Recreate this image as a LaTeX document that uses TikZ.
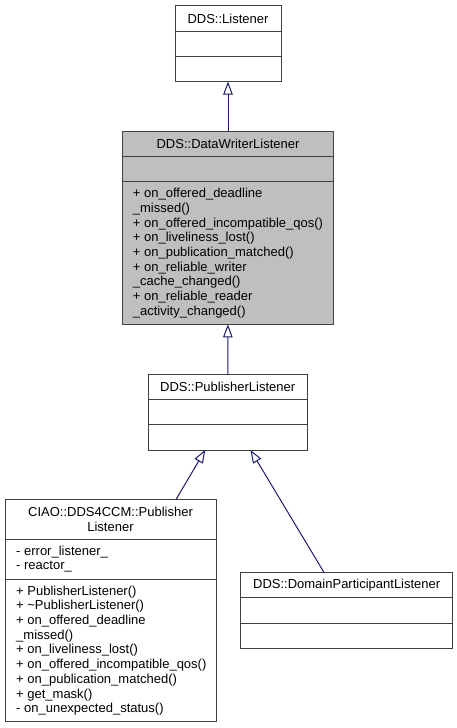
\documentclass[tikz,border=0pt]{standalone}
\usepackage{fontspec}
\setmainfont{Liberation Sans}
\usetikzlibrary{arrows.meta}

\definecolor{edgeblue}{HTML}{191970}
\definecolor{boxgray}{HTML}{BFBFBF}
\definecolor{boxline}{HTML}{404040}

\tikzset{
  classbox/.style={draw=boxline,line width=1pt,fill=white,inner sep=0pt,outer sep=0pt},
  classline/.style={draw=boxline,line width=1pt},
  classname/.style={inner sep=0pt,font=\fontsize{13pt}{14.7pt}\selectfont,align=center},
  members/.style={inner sep=0pt,anchor=north west,font=\fontsize{13pt}{14.7pt}\selectfont,align=left},
  inherit/.style={draw=edgeblue,line width=1pt,-{Triangle[open,length=13pt,width=9.5pt]}}
}

\begin{document}
\begin{tikzpicture}[x=1pt,y=-1pt]
      \useasboundingbox (0,0) rectangle (457,728);
      % classes
      \node[classbox,minimum width=106,minimum height=76] (listener) at (228,43.6) {};
      \node[classbox,fill=boxgray,minimum width=210.6,minimum height=193.3] (dwl) at (228,227.7) {};
      \node[classbox,minimum width=158.7,minimum height=76] (pub) at (227.7,412) {};
      \node[classbox,minimum width=211,minimum height=222.4] (ciao) at (110.5,610.5) {};
      \node[classbox,minimum width=212,minimum height=76] (dpl) at (346.7,610.3) {};
      % compartments
      \draw[classline] (listener.west |- 0,31.3) -- (listener.east |- 0,31.3);
      \draw[classline] (listener.west |- 0,56.7) -- (listener.east |- 0,56.7);
      \draw[classline] (dwl.west |- 0,156.3) -- (dwl.east |- 0,156.3);
      \draw[classline] (dwl.west |- 0,181.7) -- (dwl.east |- 0,181.7);
      \draw[classline] (pub.west |- 0,399.3) -- (pub.east |- 0,399.3);
      \draw[classline] (pub.west |- 0,424.7) -- (pub.east |- 0,424.7);
      \draw[classline] (ciao.west |- 0,539) -- (ciao.east |- 0,539);
      \draw[classline] (ciao.west |- 0,579.3) -- (ciao.east |- 0,579.3);
      \draw[classline] (dpl.west |- 0,597.7) -- (dpl.east |- 0,597.7);
      \draw[classline] (dpl.west |- 0,623) -- (dpl.east |- 0,623);
      % names
      \node[classname] (listenername) at (228,18.6) {DDS::Listener};
      \node[classname] (dwlname) at (228,143.7) {DDS::DataWriterListener};
      \node[classname] (pubname) at (227.7,386.7) {DDS::PublisherListener};
      \node[classname] (ciaoname) at (110.5,519) {CIAO::DDS4CCM::Publisher\\Listener};
      \node[classname] (dplname) at (346.7,585) {DDS::DomainParticipantListener};
      % members
      \node[members] (dwlops) at (132.7,188) {+ on\_offered\_deadline\\\_missed()\\+ on\_offered\_incompatible\_qos()\\+ on\_liveliness\_lost()\\+ on\_publication\_matched()\\+ on\_reliable\_writer\\\_cache\_changed()\\+ on\_reliable\_reader\\\_activity\_changed()};
      \node[members] (ciaoattrs) at (16,545.5) {- error\_listener\_\\- reactor\_};
      \node[members] (ciaoops) at (16,585.5) {+ PublisherListener()\\+ \textasciitilde PublisherListener()\\+ on\_offered\_deadline\\\_missed()\\+ on\_liveliness\_lost()\\+ on\_offered\_incompatible\_qos()\\+ on\_publication\_matched()\\+ get\_mask()\\- on\_unexpected\_status()};
      % generalisation
      \draw[inherit] (dwl) -- (listener);
      \draw[inherit] (pub) -- (dwl);
      \draw[inherit] (ciao) -- (pub);
      \draw[inherit] (dpl) -- (pub);
    \end{tikzpicture}
\end{document}
